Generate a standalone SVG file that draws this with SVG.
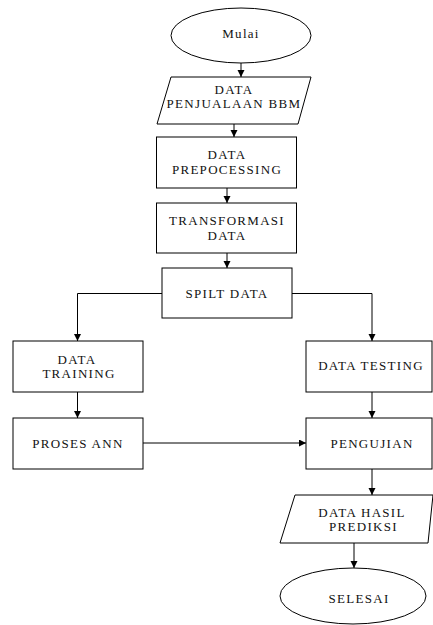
<svg xmlns="http://www.w3.org/2000/svg" width="433" height="625" viewBox="0 0 433 625">
<defs>
<style>
.n{fill:#fff;stroke:#000;stroke-width:1}
.t{font-family:"Liberation Serif","Times New Roman",serif;font-size:13px;letter-spacing:1.3px;fill:#111;text-anchor:middle}
.c{fill:none;stroke:#000;stroke-width:1}
</style>
<marker id="ah" markerUnits="userSpaceOnUse" markerWidth="8" markerHeight="8" refX="7" refY="3.5" orient="auto">
<path d="M0,0 L7,3.5 L0,7 z" fill="#000"/>
</marker>
</defs>
<rect width="433" height="625" fill="#fff"/>
<g id="connectors">
<line class="c" x1="241" y1="63" x2="241" y2="77" marker-end="url(#ah)"/>
<line class="c" x1="234" y1="124" x2="234" y2="137" marker-end="url(#ah)"/>
<line class="c" x1="227" y1="188" x2="227" y2="203" marker-end="url(#ah)"/>
<line class="c" x1="227" y1="253" x2="227" y2="268" marker-end="url(#ah)"/>
<polyline class="c" points="162,293.5 77.5,293.5 77.5,341" marker-end="url(#ah)"/>
<polyline class="c" points="292,293.5 372,293.5 372,341" marker-end="url(#ah)"/>
<line class="c" x1="77.5" y1="392" x2="77.5" y2="418" marker-end="url(#ah)"/>
<line class="c" x1="372" y1="392" x2="372" y2="418" marker-end="url(#ah)"/>
<line class="c" x1="143" y1="443" x2="306" y2="443" marker-end="url(#ah)"/>
<line class="c" x1="372" y1="469" x2="372" y2="495" marker-end="url(#ah)"/>
<line class="c" x1="354" y1="543" x2="354" y2="568" marker-end="url(#ah)"/>
</g>
<g id="mulai">
<ellipse class="n" cx="241" cy="35.5" rx="70" ry="27.5"/>
<text class="t" x="241" y="38">Mulai</text>
</g>
<g id="data-penjualan">
<polygon class="n" points="171,77 311,77 298,124 157,124"/>
<text class="t" x="234" y="93.5">DATA</text>
<text class="t" x="234" y="108">PENJUALAAN BBM</text>
</g>
<g id="prepocessing">
<rect class="n" x="156.5" y="137" width="140" height="51"/>
<text class="t" x="227" y="158.5">DATA</text>
<text class="t" x="227" y="173.5">PREPOCESSING</text>
</g>
<g id="transformasi">
<rect class="n" x="156.5" y="203" width="140" height="50"/>
<text class="t" x="227" y="225">TRANSFORMASI</text>
<text class="t" x="227" y="239.5">DATA</text>
</g>
<g id="split">
<rect class="n" x="162" y="268" width="130" height="50"/>
<text class="t" x="227" y="297.5">SPILT DATA</text>
</g>
<g id="training">
<rect class="n" x="13" y="341" width="130" height="51"/>
<text class="t" x="77" y="363.5">DATA</text>
<text class="t" x="79" y="378">TRAINING</text>
</g>
<g id="testing">
<rect class="n" x="306" y="341" width="126" height="51"/>
<text class="t" x="371" y="370">DATA TESTING</text>
</g>
<g id="ann">
<rect class="n" x="13" y="418" width="130" height="51"/>
<text class="t" x="78" y="448">PROSES ANN</text>
</g>
<g id="pengujian">
<rect class="n" x="306" y="418" width="126" height="51"/>
<text class="t" x="372" y="448">PENGUJIAN</text>
</g>
<g id="hasil">
<polygon class="n" points="295,495 433,495 428,543 280,543"/>
<text class="t" x="362" y="516.5">DATA HASIL</text>
<text class="t" x="363.5" y="531">PREDIKSI</text>
</g>
<g id="selesai">
<ellipse class="n" cx="353" cy="596" rx="73" ry="28"/>
<text class="t" x="359" y="602.5">SELESAI</text>
</g>
</svg>
